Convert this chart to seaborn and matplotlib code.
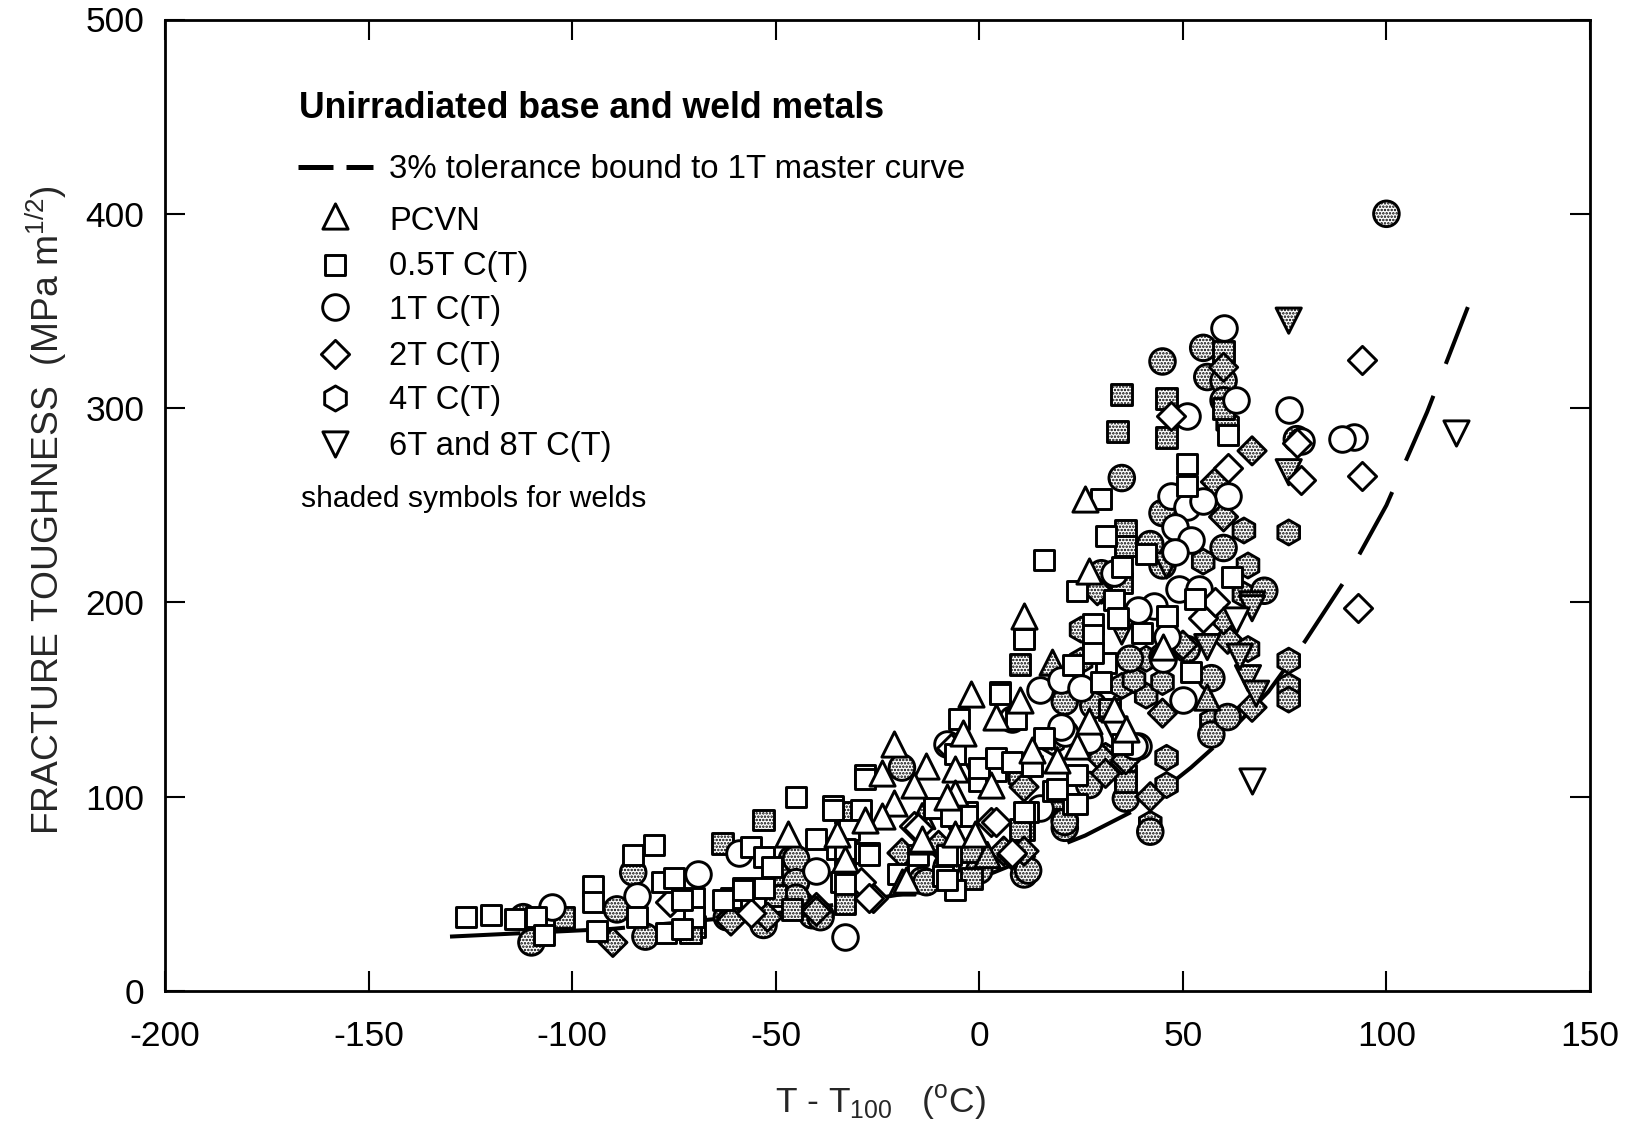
import matplotlib
matplotlib.use("Agg")
import matplotlib.pyplot as plt
from matplotlib.transforms import Affine2D
import seaborn as sns
import pandas as pd

# ---------- data: (T - T100, fracture toughness) ----------
curve_t = [-130, -110, -90, -70, -50, -30, -10, 0, 20, 26, 40, 52, 60, 71, 80, 90, 100, 110, 120]
curve_k = [28, 30, 32, 36, 40, 46, 53, 58, 75, 80, 95, 115, 130, 154, 180, 212, 250, 298, 352]

pcvn_open = [(26,253),(27,216),(11,193),(-2,153),(10,150),(-4,133),(-21,127),(-24,112),(-13,116),
             (-6,114),(-16,106),(-6,102),(3,106),(-21,97),(-24,90),(-6,81),(-1,81),(-14,77),(-19,56),
             (13,124),(19,119),(27,139),(24,126),(33,145),(36,135),(45,177),(-47,81),(-35,81),(-33,68),
             (-18,57),(-14,78),(4,141),(-8,100),(-28,88)]
sq05_open = [(-126,38),(-120,39),(-114,37),(-109,38),(-107,29),(-95,54),(-95,46),(-94,31),(-85,70),(-80,75),
             (-84,38),(-77,30),(-78,56),(-75,58),(-70,48),(-70,38),(-45,100),(-56,74),(-53,69),(-51,64),
             (-58,53),(-61,48),(-36,95),(-28,111),(-34,56),(-27,71),(-36,93),(-28,71),(-33,55),(-6,52),
             (-15,70),(-3,92),(0,108),(5,154),(11,183),(-6,122),(12,92),(18,103),(23,96),
             (51,271),(51,260),(30,253),(31,234),(41,225),(16,222),(35,218),(62,213),(24,206),(53,202),
             (33,201),(11,181),(28,189),(34,192),(46,193),(28,183),(40,184),(61,286),(5,153),(-5,140),
             (-28,109),(-3,90),(11,92),(-27,70),(-7,70),(-9,59),(4,119),(13,116),(19,104),(24,111),
             (24,96),(35,127),(9,140),(52,164),(31,169),(23,168),(30,159),
             (-29,93),(-32,83),(-40,78),(-35,73),(-33,73),(-20,60),(-8,70),(-8,57),(-63,47),(-58,52),(-53,53),
             (-11,94),(16,130),(4,113),(0,115),(4,120),(8,118),(-7,90),(28,174),(-73,47),(-73,32)]
ct1_open = [(60,341),(51,296),(63,304),(61,255),(47,255),(51,249),(55,252),(48,239),(52,232),(48,226),
            (49,207),(54,207),(43,198),(76,299),(92,285),(89,284),(79,283),(-33,28),(-105,43),(-84,49),
            (-69,60),(-40,62),(-59,71),(21,133),(39,126),(15,155),(20,160),(25,156),(50,150),(-8,127),(8,140),(38,126),
            (20,136),(27,129),(33,215),(39,196),(45,171),(46,182),(15,94)]
ct2_open = [(47,296),(61,269),(94,325),(94,265),(93,197),(79,263),(78,282),(-76,46),(-56,40),(-26,48),(-29,56),
            (-7,125),(-16,85),(3,87),(-27,48),(-15,84),(-4,84),(8,71),(55,192),(58,200),(4,87)]
inv_open = [(63,191),(117,287),(67,108),(33,135)]

pcvn_weld = [(18,169),(56,151),(-14,90),(2,70),(20,100)]
sq05_weld = [(35,307),(46,305),(34,288),(46,285),(60,329),(36,237),(36,229),(-53,88),(-63,76),(-33,45),(-70,33),
             (-102,38),(10,168),(-2,72),(-2,58),(11,83),(36,111),(32,145),(60,300),
             (-33,64),(-50,49),(-46,42),(-71,30),(36,108),(35,210),(10,83),(-33,92)]
ct1_weld = [(100,400),(55,331),(56,316),(60,314),(45,324),(60,304),(35,264),(45,246),(60,228),(45,219),(70,206),
            (-110,25),(-112,38),(-85,61),(-82,28),(-89,42),(-53,36),(-62,38),(-39,39),(-46,68),(-46,55),(-41,39),
            (-19,115),(-14,57),(11,60),(21,88),(21,84),(42,82),(36,99),(21,149),(28,147),(51,176),(57,161),
            (57,132),(61,141),(45,172),(-44,45),(-50,60),(78,284),(30,215),(12,62),
            (-45,68),(-45,56),(-39,38),(-53,34),(-13,56),(42,230),(27,106),(37,171),(21,87),(-8,64),(0,62),(-45,48)]
ct2_weld = [(60,321),(67,278),(58,262),(60,244),(29,206),(61,181),(-19,71),(11,72),(6,72),(42,100),(35,119),(45,143),
            (67,146),(-90,25),(-61,38),(-40,43),(-52,38),(50,178),(30,120),
            (-40,41),(-61,36),(36,119),(31,112),(11,105),(60,191),(-10,75),(8,70)]
ct4_weld = [(61,292),(65,237),(76,236),(55,221),(66,219),(66,176),(76,170),(76,157),(76,150),(46,120),(46,106),
            (31,121),(41,152),(45,159),(35,157),(57,139),(42,86),(18,128),(25,170),(38,160),
            (30,206),(65,204),(25,186),(41,171),(10,110)]
inv_weld = [(76,345),(76,267),(67,199),(56,177),(66,161),(68,153),(64,172),(46,219),(35,185),(67,197),(0,110)]

title_text = "Unirradiated base and weld metals"
line_label = "3% tolerance bound to 1T master curve"
key_labels = ["PCVN", "0.5T C(T)", "1T C(T)", "2T C(T)", "4T C(T)", "6T and 8T C(T)"]
note_text = "shaded symbols for welds"
x_ticks = [-200, -150, -100, -50, 0, 50, 100, 150]
y_ticks = [0, 100, 200, 300, 400, 500]

# ---------- style ----------
W, H = 1637, 1130
FONT = "Liberation Sans"
sns.set_theme(style="white")
plt.rcParams.update({
    "font.family": [FONT, "DejaVu Sans"],
    "mathtext.default": "regular",
    "mathtext.fontset": "custom",
    "mathtext.rm": FONT,
    "axes.unicode_minus": False,
    "hatch.color": "black",
    "hatch.linewidth": 1.2,
})
EDGE = 2.1
SIZES = {"^": 330, "s": 225, "o": 340, "D": 207, "h": 324, "v": 330}
HATCH = "....."

fig = plt.figure(figsize=(W / 100, H / 100), dpi=100, facecolor="white")
ax = fig.add_axes([165 / W, 1 - 991 / H, (1590 - 165) / W, (991 - 19.5) / H])
pix = Affine2D().scale(1 / W, -1 / H).translate(0, 1) + fig.transFigure


def series(points, marker, weld, z):
    df = pd.DataFrame(points, columns=["t", "k"])
    kw = {"hatch": HATCH} if weld else {}
    sns.scatterplot(data=df, x="t", y="k", marker=marker, s=SIZES[marker], color="white",
                    edgecolor="black", linewidth=EDGE, ax=ax, zorder=z, clip_on=False,
                    legend=False, **kw)


sns.lineplot(x=curve_t, y=curve_k, color="black", lw=2.9, ax=ax, zorder=2, sort=False,
             errorbar=None, dashes=(17.5, 8.5), legend=False)

series(ct4_weld, "h", True, 3.0)
series(ct1_weld, "o", True, 3.1)
series(sq05_weld, "s", True, 3.2)
series(ct2_weld, "D", True, 3.3)
series(inv_weld, "v", True, 3.4)
series(pcvn_weld, "^", True, 3.5)
series(ct1_open, "o", False, 4.0)
series(ct2_open, "D", False, 4.1)
series(inv_open, "v", False, 4.2)
series(sq05_open, "s", False, 4.3)
series(pcvn_open, "^", False, 4.4)

ax.set_xlim(-200, 150)
ax.set_ylim(0, 500)
ax.set_xticks(x_ticks)
ax.set_yticks(y_ticks)
ax.tick_params(axis="both", which="major", direction="in", length=14.5, width=1.5,
               top=True, right=True, bottom=True, left=True, labelsize=25.5, colors="black")
ax.tick_params(axis="x", pad=21)
ax.tick_params(axis="y", pad=15)
for sp in ax.spines.values():
    sp.set_visible(True)
    sp.set_color("black")
    sp.set_linewidth(2.0)
    sp.set_zorder(6)

ax.set_xlabel(r"T - T$_{100}$   ($^{o}$C)", fontsize=25.5, va="center", ha="center")
ax.xaxis.set_label_coords(880, 1102, transform=pix)
ax.set_ylabel(r"FRACTURE TOUGHNESS  (MPa m$^{1/2}$)", fontsize=26.8, va="center", ha="center")
ax.yaxis.set_label_coords(46, 510, transform=pix)

# ---------- annotation block ----------
ax.text(299, 108, title_text, transform=pix, fontsize=25.7, fontweight="bold", va="center", ha="left", color="black")
ax.plot([298, 373], [167, 167], transform=pix, color="black", lw=3.6, dashes=(7, 2.6), clip_on=False)
ax.text(389, 169, line_label, transform=pix, fontsize=23.8, va="center", ha="left", color="black")
text_rows = [221, 267, 310, 356, 400, 446]
mark_rows = [216, 265, 307, 354, 398, 444]
key_marks = ["^", "s", "o", "D", "h", "v"]
for trow, mrow, mark, label in zip(text_rows, mark_rows, key_marks, key_labels):
    ax.scatter([335], [mrow], transform=pix, marker=mark, s=SIZES[mark], facecolor="white",
               edgecolor="black", linewidth=EDGE, zorder=5)
    ax.text(389, trow, label, transform=pix, fontsize=23.6, va="center", ha="left", color="black")
ax.text(301, 499, note_text, transform=pix, fontsize=21.6, va="center", ha="left", color="black")

ax.set_xlim(-200, 150)
ax.set_ylim(0, 500)
fig.savefig("out.png", dpi=100, facecolor="white")
